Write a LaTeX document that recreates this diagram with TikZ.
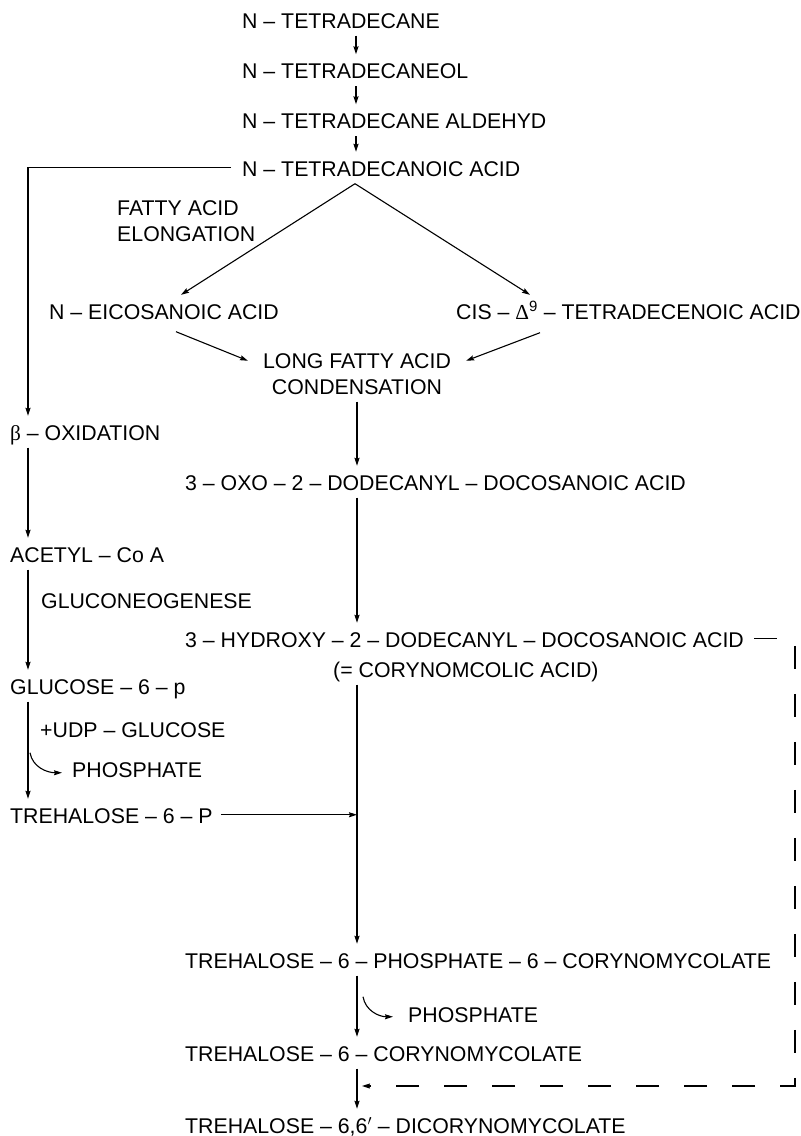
\documentclass[tikz,border=0pt]{standalone}
\usepackage{fontspec}
\setmainfont{Liberation Sans}
\newfontfamily\grk{Liberation Serif}
\usetikzlibrary{arrows.meta,calc}
\begin{document}
\begin{tikzpicture}[x=1pt,y=-1pt,
  txt/.style={inner sep=0pt, font=\fontsize{21.3}{25}\selectfont, text height=24pt, text depth=7.5pt},
  lbl/.style={txt, anchor=base west},
  lblc/.style={txt, anchor=base},
  arr/.style={line width=1.1pt, -{Stealth[length=8pt,width=5pt,inset=1pt]}},
  dashedarr/.style={arr, dash pattern=on 23pt off 25pt}
]
\useasboundingbox (0,0) rectangle (801,1136);
\coordinate (ax) at (356,0);
\coordinate (cx) at (357,0);
\coordinate (lx) at (28,0);
\coordinate (apx) at (355,0);
\coordinate (dr) at (795,1086);

\node[lbl] (t1) at (242,28) {N – TETRADECANE};
\node[lbl] (t2) at (242,78.5) {N – TETRADECANEOL};
\node[lbl] (t3) at (242,128.5) {N – TETRADECANE ALDEHYD};
\node[lbl] (t4) at (242,176) {N – TETRADECANOIC ACID};
\node[lbl] (fa1) at (117,215) {FATTY ACID};
\node[lbl] (fa2) at (117,241) {ELONGATION};
\node[lbl] (eico) at (49,319) {N – EICOSANOIC ACID};
\node[lbl] (cis) at (456,319) {CIS – {\grk Δ}\textsuperscript{9} – TETRADECENOIC ACID};
\node[lblc] (long1) at (357,368) {LONG FATTY ACID};
\node[lblc] (long2) at (357,394) {CONDENSATION};
\node[lbl] (beta) at (10,440) {{\grk β} – OXIDATION};
\node[lbl] (oxo) at (185,490) {3 – OXO – 2 – DODECANYL – DOCOSANOIC ACID};
\node[lbl] (acetyl) at (10,562) {ACETYL – Co A};
\node[lbl] (gluco) at (41,608) {GLUCONEOGENESE};
\node[lbl] (hydroxy) at (185,647) {3 – HYDROXY – 2 – DODECANYL – DOCOSANOIC ACID};
\node[lbl] (coryn) at (333,677) {(= CORYNOMCOLIC ACID)};
\node[lbl] (glc) at (10,694) {GLUCOSE – 6 – p};
\node[lbl] (udp) at (40,737) {+UDP – GLUCOSE};
\node[lbl] (phosL) at (72,777) {PHOSPHATE};
\node[lbl] (treh) at (10,823) {TREHALOSE – 6 – P};
\node[lbl] (t6p6c) at (185,968) {TREHALOSE – 6 – PHOSPHATE – 6 – CORYNOMYCOLATE};
\node[lbl] (phosR) at (408,1022) {PHOSPHATE};
\node[lbl] (t6c) at (185,1061) {TREHALOSE – 6 – CORYNOMYCOLATE};
\node[lbl] (dicory) at (185,1133) {TREHALOSE – 6,6$'$ – DICORYNOMYCOLATE};

% top chain
\draw[arr] (t1.south -| ax) -- (t2.north -| ax);
\draw[arr] (t2.south -| ax) -- (t3.north -| ax);
\draw[arr] (t3.south -| ax) -- (t4.north -| ax);
% branches
\draw[arr] (t4.south -| apx) -- ([xshift=17pt]eico.north);
\draw[arr] (t4.south -| apx) -- ([xshift=74pt]cis.north west);
\draw[arr] ([xshift=-11pt]t4.west) -| (beta.north -| lx);
\draw[arr] ([xshift=12pt,yshift=-5pt]eico.south) -- ([xshift=-15pt,yshift=-1pt]long1.west);
\draw[arr] ([xshift=84pt,yshift=-6pt]cis.south west) -- ([xshift=15pt,yshift=-1pt]long1.east);
% main column
\draw[arr] (long2.south -| cx) -- (oxo.north -| cx);
\draw[arr] (oxo.south -| cx) -- (hydroxy.north -| cx);
\draw[arr] (coryn.south -| cx) -- (t6p6c.north -| cx);
\draw[arr] (t6p6c.south -| cx) -- (t6c.north -| cx);
\draw[arr] (t6c.south -| cx) -- (dicory.north -| cx);
\draw[arr] ([xshift=-45pt,yshift=17pt]phosR.west) to[out=-80,in=180] ([xshift=-15pt,yshift=-3pt]phosR.west);
% left column
\draw[arr] (beta.south -| lx) -- (acetyl.north -| lx);
\draw[arr] (acetyl.south -| lx) -- (glc.north -| lx);
\draw[arr] (glc.south -| lx) -- (treh.north -| lx);
\draw[arr] ([xshift=-42pt,yshift=16pt]phosL.west) to[out=-80,in=180] ([xshift=-10pt,yshift=-4pt]phosL.west);
\draw[arr] ([xshift=8pt]treh.east) -- (treh.east -| cx);
% dashed feedback
\draw[dashedarr] ([xshift=10pt]hydroxy.east) -| (dr) -- ([xshift=5pt]dr -| cx);
\end{tikzpicture}
\end{document}
